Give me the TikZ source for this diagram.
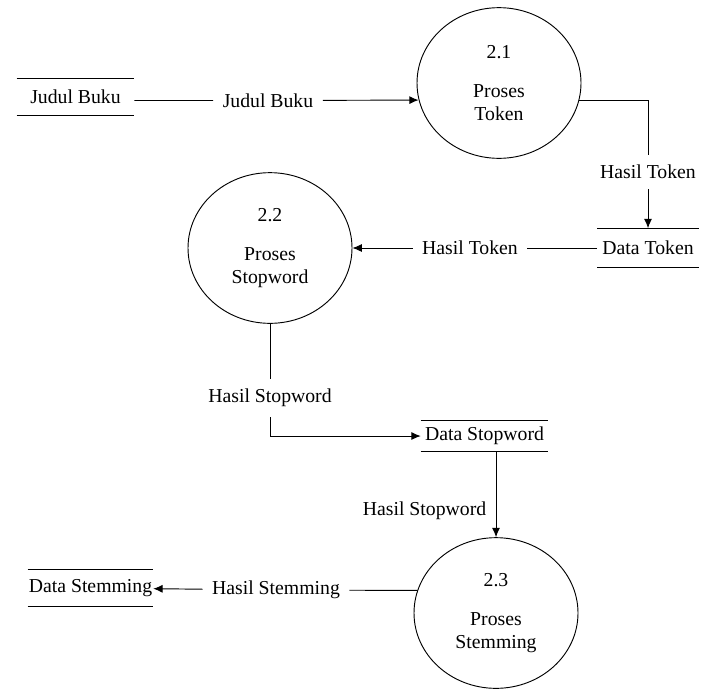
\documentclass[tikz,border=0pt]{standalone}
\usepackage{fontspec}
\setmainfont{LiberationSerif}[Extension=.ttf, UprightFont=*-Regular, BoldFont=*-Bold]
\usetikzlibrary{shapes.geometric,arrows.meta}
\begin{document}
\begin{tikzpicture}
     [
     x=0.75pt, y=-0.75pt,
     every node/.style={font=\fontsize{14.8}{17.5}\selectfont},
     process/.style={ellipse, draw=black, line width=0.7pt, align=center, inner sep=0pt, minimum width=123pt, minimum height=113pt},
     store/.style={rectangle, inner sep=0pt, minimum height=28pt},
     storeline/.style={draw=black, line width=0.7pt},
     flowlabel/.style={rectangle, inner xsep=7pt, inner ysep=7.5pt},
     flow/.style={draw=black, line width=0.7pt, -{Latex[length=7pt,width=6pt]}},
     ]
 \useasboundingbox (0,0) rectangle (702,693);
 % proses
 \node at (499,83) [process] (p21) {2.1\\[12pt]Proses\\Token};
 \node at (270,248) [process] (p22) {2.2\\[12pt]Proses\\Stopword};
 \node at (496,613) [process] (p23) {2.3\\[12pt]Proses\\Stemming};
 % data store
 \node at (75.5,97) [store, minimum width=87.75pt, minimum height=27.75pt] (jb) {Judul Buku};
 \node at (648,248) [store, minimum width=75.75pt, minimum height=29.25pt] (dt) {Data Token};
 \node at (484.5,436) [store, minimum width=95.25pt, minimum height=23.25pt] (ds) {Data Stopword};
 \node at (90.5,588) [store, minimum width=93.75pt, minimum height=27.75pt] (dsm) {Data Stemming};
 \draw[storeline] (jb.north west) -- (jb.north east) (jb.south west) -- (jb.south east);
 \draw[storeline] (dt.north west) -- (dt.north east) (dt.south west) -- (dt.south east);
 \draw[storeline] (ds.north west) -- (ds.north east) (ds.south west) -- (ds.south east);
 \draw[storeline] (dsm.north west) -- (dsm.north east) (dsm.south west) -- (dsm.south east);
 % label aliran
 \node at (268,100.5) [flowlabel] (l1) {Judul Buku};
 \node at (648,172) [flowlabel] (l2) {Hasil Token};
 \node at (470,248) [flowlabel] (l3) {Hasil Token};
 \node at (270,398) [flowlabel] (l4) {Hasil Stopword};
 \node at (276,590) [flowlabel] (l6) {Hasil Stemming};
 % aliran
 \draw[flow] (jb.east |- l1) -- (l1) -- (p21.192);
 \draw[flow] (p21.-12) -| (l2) -- (dt);
 \draw[flow] (dt) -- (l3) -- (p22);
 \draw[flow] (p22) -- (l4) |- (ds);
 \draw[flow] (ds.south -| p23.north) -- node[flowlabel, left, pos=0.69] (l5) {Hasil Stopword} (p23.north);
 \draw[flow] (p23.164) -- (l6) -- (dsm);
 \end{tikzpicture}
\end{document}
